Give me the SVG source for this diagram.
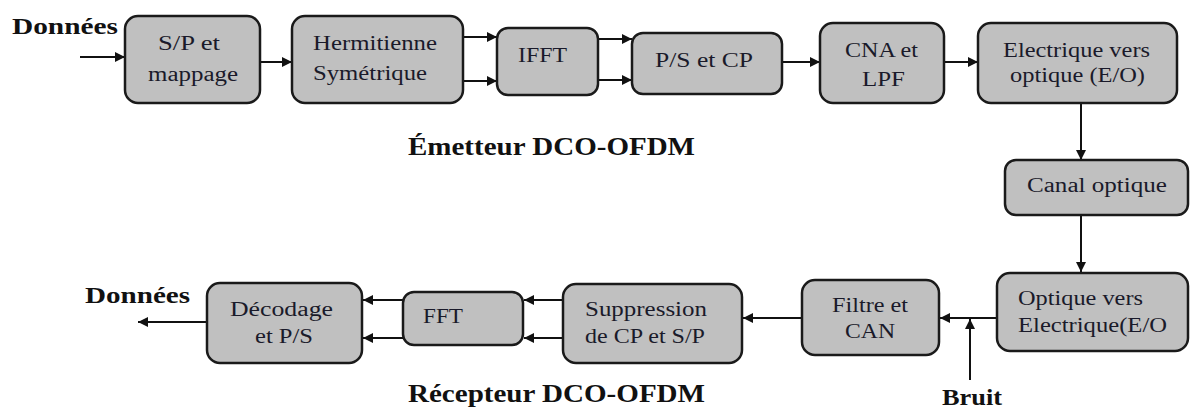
<svg xmlns="http://www.w3.org/2000/svg" width="1190" height="410" viewBox="0 0 1190 410">
<style>
.box{fill:#c0c0c0;stroke:#1a1a1a;stroke-width:2.5}
.t{font-family:"Liberation Serif","DejaVu Serif",serif;font-size:20px;fill:#1a1a2a}
.m{text-anchor:middle}
.s{text-anchor:start}
.b{font-family:"Liberation Serif","DejaVu Serif",serif;font-weight:bold;fill:#111}
.c{stroke:#111;stroke-width:2;fill:none;marker-end:url(#ah)}
</style>
<defs>
<marker id="ah" viewBox="0 0 10 10" refX="10" refY="5" markerWidth="5.5" markerHeight="5" orient="auto" markerUnits="strokeWidth">
<path d="M0,0 L10,5 L0,10 z" fill="#111"/>
</marker>
</defs>
<rect width="1190" height="410" fill="#fff"/>

<g id="connectors">
<line class="c" x1="80" y1="57" x2="125" y2="57"/>
<line class="c" x1="260" y1="62" x2="292" y2="62"/>
<line class="c" x1="463" y1="37" x2="497" y2="37"/>
<line class="c" x1="463" y1="81" x2="497" y2="81"/>
<line class="c" x1="598" y1="39" x2="632" y2="39"/>
<line class="c" x1="598" y1="80" x2="632" y2="80"/>
<line class="c" x1="782" y1="62" x2="820" y2="62"/>
<line class="c" x1="944" y1="62" x2="978" y2="62"/>
<line class="c" x1="1081" y1="103" x2="1081" y2="160"/>
<line class="c" x1="1081" y1="215" x2="1081" y2="272"/>
<line class="c" x1="997" y1="318" x2="940" y2="318"/>
<line class="c" x1="970" y1="380" x2="970" y2="319"/>
<line class="c" x1="802" y1="318" x2="743" y2="318"/>
<line class="c" x1="563" y1="300" x2="524" y2="300"/>
<line class="c" x1="563" y1="338" x2="524" y2="338"/>
<line class="c" x1="403" y1="300" x2="363" y2="300"/>
<line class="c" x1="403" y1="338" x2="363" y2="338"/>
<line class="c" x1="207" y1="322" x2="138" y2="322"/>
</g>

<g id="labels">
<text class="b" x="12" y="34" font-size="24" textLength="106" lengthAdjust="spacingAndGlyphs">Données</text>
<text class="b" x="408" y="155" font-size="26" textLength="287" lengthAdjust="spacingAndGlyphs">Émetteur DCO-OFDM</text>
<text class="b" x="85" y="303" font-size="24" textLength="105" lengthAdjust="spacingAndGlyphs">Données</text>
<text class="b" x="408" y="402" font-size="26" textLength="297" lengthAdjust="spacingAndGlyphs">Récepteur DCO-OFDM</text>
<text class="b" x="942" y="405" font-size="24" textLength="60" lengthAdjust="spacingAndGlyphs">Bruit</text>
</g>

<g id="n1"><rect class="box" x="125" y="16" width="135" height="87" rx="13"/>
<text class="t s" x="158" y="50" textLength="62" lengthAdjust="spacingAndGlyphs">S/P et</text><text class="t s" x="148" y="81" textLength="90" lengthAdjust="spacingAndGlyphs">mappage</text></g>

<g id="n2"><rect class="box" x="292" y="16" width="171" height="87" rx="13"/>
<text class="t s" x="313" y="50" textLength="124" lengthAdjust="spacingAndGlyphs">Hermitienne</text><text class="t s" x="313" y="80" textLength="114" lengthAdjust="spacingAndGlyphs">Symétrique</text></g>

<g id="n3"><rect class="box" x="497" y="28" width="101" height="67" rx="11"/>
<text class="t s" x="518" y="62" textLength="49" lengthAdjust="spacingAndGlyphs">IFFT</text></g>

<g id="n4"><rect class="box" x="632" y="33" width="150" height="61" rx="11"/>
<text class="t s" x="655" y="67" textLength="98" lengthAdjust="spacingAndGlyphs">P/S et CP</text></g>

<g id="n5"><rect class="box" x="820" y="23" width="124" height="80" rx="13"/>
<text class="t s" x="845" y="57" textLength="73" lengthAdjust="spacingAndGlyphs">CNA et</text><text class="t s" x="862" y="86" textLength="43" lengthAdjust="spacingAndGlyphs">LPF</text></g>

<g id="n6"><rect class="box" x="978" y="23" width="199" height="80" rx="13"/>
<text class="t s" x="1003" y="57" textLength="147" lengthAdjust="spacingAndGlyphs">Electrique vers</text><text class="t s" x="1010" y="82" textLength="135" lengthAdjust="spacingAndGlyphs">optique (E/O)</text></g>

<g id="n7"><rect class="box" x="1005" y="160" width="183" height="55" rx="11"/>
<text class="t s" x="1027" y="192" textLength="140" lengthAdjust="spacingAndGlyphs">Canal optique</text></g>

<g id="n8"><rect class="box" x="997" y="273" width="191" height="78" rx="13"/>
<text class="t s" x="1018" y="305" textLength="125" lengthAdjust="spacingAndGlyphs">Optique vers</text><text class="t s" x="1018" y="332" textLength="149" lengthAdjust="spacingAndGlyphs">Electrique(E/O</text></g>

<g id="n9"><rect class="box" x="802" y="280" width="137" height="75" rx="13"/>
<text class="t s" x="832" y="312" textLength="76" lengthAdjust="spacingAndGlyphs">Filtre et</text><text class="t s" x="845" y="338" textLength="50" lengthAdjust="spacingAndGlyphs">CAN</text></g>

<g id="n10"><rect class="box" x="563" y="284" width="179" height="79" rx="13"/>
<text class="t s" x="585" y="316" textLength="122" lengthAdjust="spacingAndGlyphs">Suppression</text><text class="t s" x="585" y="343" textLength="120" lengthAdjust="spacingAndGlyphs">de CP et S/P</text></g>

<g id="n11"><rect class="box" x="403" y="292" width="120" height="53" rx="11"/>
<text class="t s" x="423" y="323" textLength="40" lengthAdjust="spacingAndGlyphs">FFT</text></g>

<g id="n12"><rect class="box" x="207" y="283" width="155" height="80" rx="13"/>
<text class="t s" x="230" y="316" textLength="103" lengthAdjust="spacingAndGlyphs">Décodage</text><text class="t s" x="255" y="343" textLength="58" lengthAdjust="spacingAndGlyphs">et P/S</text></g>
</svg>
